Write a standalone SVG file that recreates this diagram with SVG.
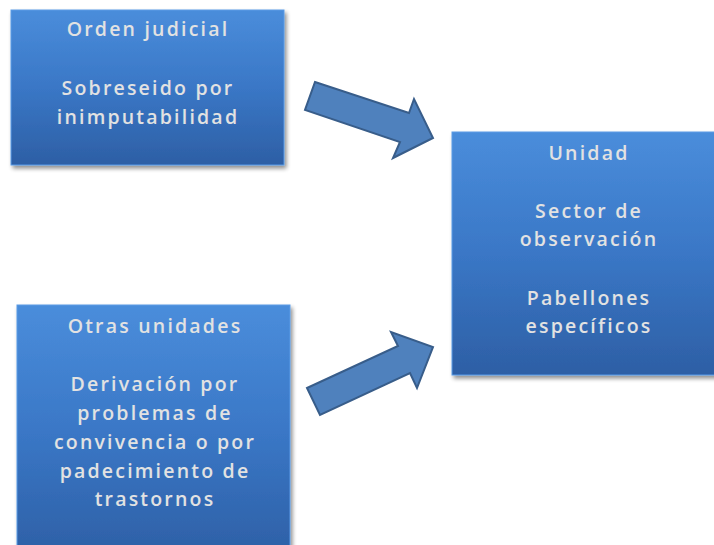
<svg xmlns="http://www.w3.org/2000/svg" width="714" height="545" viewBox="0 0 714 545">
<defs>
<linearGradient id="g" x1="0" y1="0" x2="0" y2="1">
<stop offset="0" stop-color="#4a8ddb"/>
<stop offset="0.5" stop-color="#3a77c6"/>
<stop offset="1" stop-color="#2d5fa5"/>
</linearGradient>
<filter id="sh" x="-10%" y="-10%" width="125%" height="125%">
<feGaussianBlur in="SourceAlpha" stdDeviation="2"/>
<feOffset dx="2" dy="3"/>
<feComponentTransfer><feFuncA type="linear" slope="0.45"/></feComponentTransfer>
<feMerge><feMergeNode/><feMergeNode in="SourceGraphic"/></feMerge>
</filter>
</defs>
<style>
.box{fill:url(#g);stroke:#5a9be6;stroke-width:1;filter:url(#sh)}
.t{font-family:"Open Sans","Liberation Sans",sans-serif;font-size:19.5px;font-weight:600;fill:#e2e2e2;text-anchor:middle;letter-spacing:2.2px}
.arr{fill:#4f81bd;stroke:#385d8a;stroke-width:2;stroke-linejoin:miter}
</style>
<rect width="714" height="545" fill="#fff"/>
<g id="connectors">
<polygon class="arr" points="315,82 409,113 414,99 433,138 393,158 400,142 305,110"/>
<polygon class="arr" points="307,388 398,346 391,332 433,347 417,388 410,373 320,415"/>
</g>
<g id="orden">
<rect class="box" x="11" y="10" width="273" height="155"/>
<text class="t" x="148" y="36">Orden judicial</text>
<text class="t" x="148" y="95">Sobreseido por</text>
<text class="t" x="148" y="124">inimputabilidad</text>
</g>
<g id="unidad">
<rect class="box" x="452" y="132" width="275" height="243"/>
<text class="t" x="589" y="160">Unidad</text>
<text class="t" x="589" y="218">Sector de</text>
<text class="t" x="589" y="246">observación</text>
<text class="t" x="589" y="305">Pabellones</text>
<text class="t" x="589" y="333">específicos</text>
</g>
<g id="otras">
<rect class="box" x="17" y="305" width="273" height="255"/>
<text class="t" x="155" y="333">Otras unidades</text>
<text class="t" x="155" y="391">Derivación por</text>
<text class="t" x="155" y="420">problemas de</text>
<text class="t" x="155" y="449">convivencia o por</text>
<text class="t" x="155" y="478">padecimiento de</text>
<text class="t" x="155" y="506">trastornos</text>
</g>
</svg>
